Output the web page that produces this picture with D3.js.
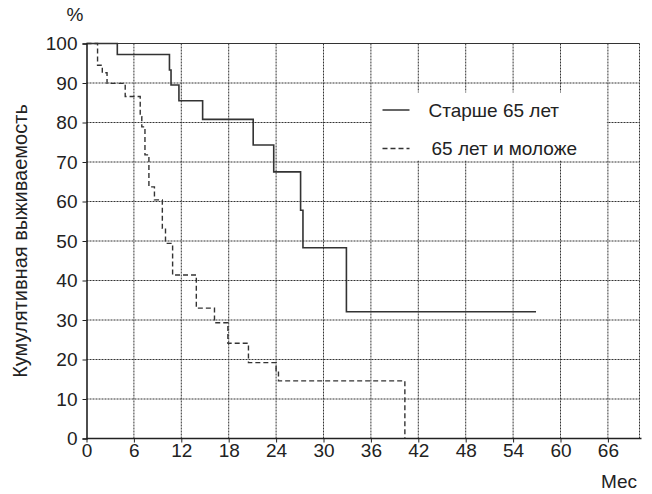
<!DOCTYPE html>
<html>
<head>
<meta charset="utf-8">
<script src="https://cdn.jsdelivr.net/npm/d3@7"></script>
<style>
  body { margin: 0; background: #fff; }
  text { font-family: "Liberation Sans", Arial, sans-serif; fill: #222; }
</style>
</head>
<body>
<script>
var width = 652;
var height = 494;

// months and cumulative survival (%) after each step
var olderMonths = [0, 3.9, 10.5, 10.7, 11.7, 14.7, 21.1, 23.7, 27.1, 27.4, 32.9, 56.9];
var olderValues = [100, 97.2, 93.3, 89.5, 85.5, 80.8, 74.3, 67.5, 57.8, 48.3, 32.1, 32.1];

var youngerMonths = [0, 1.4, 2.0, 2.6, 4.9, 6.8, 7.0, 7.4, 7.9, 8.6, 9.6, 10.0, 10.9, 13.9, 16.2, 17.9, 20.5, 24.0, 24.3, 40.3];
var youngerValues = [100, 94.5, 92.6, 89.9, 86.6, 81.5, 78.9, 71.8, 63.7, 60.4, 53.2, 49.4, 41.4, 33.0, 29.3, 24.1, 19.2, 17.1, 14.6, 0];

var xTicks = [0, 6, 12, 18, 24, 30, 36, 42, 48, 54, 60, 66];
var yTicks = [0, 10, 20, 30, 40, 50, 60, 70, 80, 90, 100];
var seriesNames = ["Старше 65 лет", "65 лет и моложе"];

var margin = {left: 86.5, top: 43.5, right: 12.5, bottom: 55.5};
var w = width - margin.left - margin.right;
var h = height - margin.top - margin.bottom;
var fontSize = "19px";

var svg = d3.select("body").append("svg")
    .attr("width", width)
    .attr("height", height);

var g = svg.append("g")
    .attr("transform", "translate(" + margin.left + "," + margin.top + ")");

var x = d3.scaleLinear().domain([0, 70]).range([0, w]);
var y = d3.scaleLinear().domain([0, 100]).range([h, 0]);

// grid
g.selectAll(".vgrid")
    .data(xTicks.slice(1).concat([70]))
  .enter().append("line")
    .attr("x1", function (d) { return x(d); })
    .attr("x2", function (d) { return x(d); })
    .attr("y1", 0).attr("y2", h)
    .style("stroke", "#333")
    .style("stroke-width", 1)
    .style("stroke-dasharray", "2,1");

g.selectAll(".hgrid")
    .data(yTicks.slice(1, -1))
  .enter().append("line")
    .attr("x1", 0).attr("x2", w)
    .attr("y1", function (d) { return y(d); })
    .attr("y2", function (d) { return y(d); })
    .style("stroke", "#333")
    .style("stroke-width", 1)
    .style("stroke-dasharray", "2,1");

// top frame
g.append("line")
    .attr("x1", 0).attr("x2", w)
    .attr("y1", 0).attr("y2", 0)
    .style("stroke", "#333")
    .style("stroke-width", 1.2);

// legend background covers grid
var lg = g.append("g").attr("transform", "translate(" + (x(36) + 1) + ",49)");
lg.append("rect")
    .attr("width", x(66) - x(36) - 2)
    .attr("height", 68)
    .style("fill", "#fff");

var line = d3.line()
    .x(function (d) { return x(d[0]); })
    .y(function (d) { return y(d[1]); })
    .curve(d3.curveStepAfter);

var older = olderMonths.map(function (m, i) { return [m, olderValues[i]]; });
var younger = youngerMonths.map(function (m, i) { return [m, youngerValues[i]]; });

g.append("path")
    .datum(younger)
    .attr("d", line)
    .style("fill", "none")
    .style("stroke", "#333")
    .style("stroke-width", 1.4)
    .style("stroke-dasharray", "5,3");

g.append("path")
    .datum(older)
    .attr("d", line)
    .style("fill", "none")
    .style("stroke", "#333")
    .style("stroke-width", 1.6);

// axes
var xAxis = g.append("g")
    .attr("transform", "translate(0," + h + ")")
    .call(d3.axisBottom(x).tickValues(xTicks).tickSize(4).tickPadding(1));
var yAxis = g.append("g")
    .call(d3.axisLeft(y).tickValues(yTicks).tickSize(4).tickPadding(5));

[xAxis, yAxis].forEach(function (a) {
  a.select(".domain").style("stroke", "#222").style("stroke-width", 1.6);
  a.selectAll(".tick line").style("stroke", "#222");
  a.selectAll("text").style("font-size", fontSize).style("fill", "#222")
    .style("font-family", "'Liberation Sans', Arial, sans-serif");
});
// x axis extends slightly past the frame
xAxis.select(".domain").attr("d", "M0,0H" + (w + 2));

// legend
var legendY = [66.5, 105];
seriesNames.forEach(function (name, i) {
  var ly = legendY[i];
  g.append("line")
    .attr("x1", 296).attr("x2", 323)
    .attr("y1", ly).attr("y2", ly)
    .style("stroke", "#333")
    .style("stroke-width", 1.5)
    .style("stroke-dasharray", i == 1 ? "5,3" : null);
  g.append("text")
    .attr("x", i == 0 ? 342 : 345)
    .attr("y", ly)
    .attr("dy", "0.35em")
    .style("font-size", fontSize)
    .text(name);
});

// titles
svg.append("text")
    .attr("x", 75).attr("y", 21)
    .attr("text-anchor", "middle")
    .style("font-size", fontSize)
    .text("%");

svg.append("text")
    .attr("transform", "translate(27," + (margin.top + h / 2) + ") rotate(-90)")
    .attr("text-anchor", "middle")
    .style("font-size", "20px")
    .text("Кумулятивная выживаемость");

svg.append("text")
    .attr("x", 637).attr("y", 488)
    .attr("text-anchor", "end")
    .style("font-size", fontSize)
    .text("Мес");
</script>
</body>
</html>
